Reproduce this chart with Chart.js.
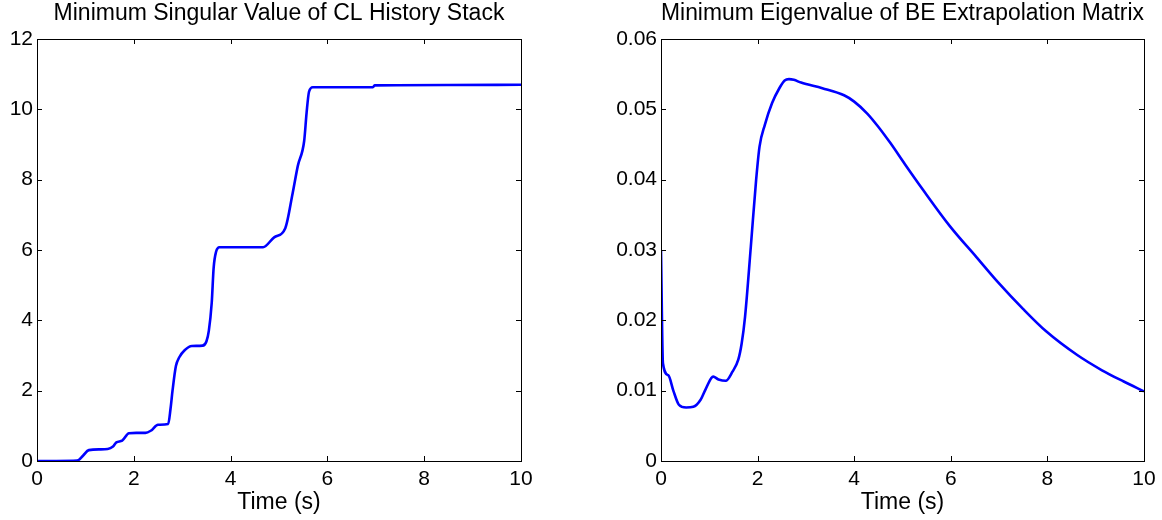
<!DOCTYPE html>
<html>
<head>
<meta charset="utf-8">
<script src="https://cdn.jsdelivr.net/npm/chart.js@4"></script>
<style>
  html, body { margin: 0; padding: 0; background: #fff; overflow: hidden; }
  #wrap { position: relative; width: 1162px; height: 520px; }
  canvas { position: absolute; top: 0; }
  #leftChart { left: 0; }
  #rightChart { left: 581px; }
</style>
</head>
<body>
<div id="wrap">
  <canvas id="leftChart" width="581" height="520"></canvas>
  <canvas id="rightChart" width="581" height="520"></canvas>
</div>
<script>
// Minimum singular value of CL history stack
const clTime = [0, 0.4, 0.83, 0.95, 1.07, 1.3, 1.46, 1.57, 1.64, 1.76, 1.9, 2.05, 2.24, 2.35, 2.5, 2.71, 2.76, 2.8, 2.87, 2.94, 3.05, 3.2, 3.42, 3.5, 3.55, 3.61, 3.65, 3.7, 3.77, 4.2, 4.67, 4.9, 5.13, 5.28, 5.39, 5.52, 5.57, 5.62, 5.7, 6.3, 6.94, 6.98, 8.5, 10];
const clValue = [0, 0, 0.01, 0.15, 0.31, 0.33, 0.34, 0.41, 0.53, 0.58, 0.79, 0.8, 0.8, 0.86, 1.03, 1.05, 1.5, 2.0, 2.7, 2.95, 3.15, 3.27, 3.28, 3.4, 3.7, 4.5, 5.5, 5.95, 6.08, 6.08, 6.08, 6.36, 6.62, 7.6, 8.4, 9.1, 9.9, 10.5, 10.63, 10.63, 10.63, 10.68, 10.69, 10.7];

// Minimum eigenvalue of BE extrapolation matrix
const beTime = [0, 0.04, 0.15, 0.26, 0.37, 0.52, 0.67, 0.82, 0.93, 1.08, 1.19, 1.34, 1.48, 1.6, 1.67, 1.74, 1.86, 1.97, 2.04, 2.15, 2.3, 2.45, 2.56, 2.65, 2.75, 2.9, 3.34, 3.79, 4.0, 4.27, 4.49, 4.75, 5.05, 5.42, 5.98, 6.53, 6.98, 7.5, 7.98, 8.61, 9.13, 9.58, 10];
const beValue = [0.030, 0.0139, 0.0122, 0.0099, 0.0080, 0.0076, 0.0077, 0.0087, 0.0103, 0.0120, 0.0116, 0.0114, 0.0127, 0.0144, 0.0167, 0.0205, 0.0305, 0.0400, 0.0447, 0.0478, 0.0509, 0.0530, 0.0541, 0.0543, 0.0542, 0.0538, 0.0530, 0.0520, 0.0511, 0.0494, 0.0476, 0.0452, 0.0422, 0.0386, 0.0334, 0.0290, 0.0254, 0.0216, 0.0184, 0.0151, 0.0129, 0.0113, 0.0099];

const xTicks = [0, 2, 4, 6, 8, 10];
const clTicks = [0, 2, 4, 6, 8, 10, 12];
const beTicks = [0, 0.01, 0.02, 0.03, 0.04, 0.05, 0.06];

const FONT = "'Liberation Sans', Arial, Helvetica, sans-serif";

// MATLAB-style box with inward ticks on all four sides
const boxPlugin = {
    id: 'matlabBox',
    afterDraw(chart) {
        const ctx = chart.ctx;
        const a = chart.chartArea;
        const len = 5;
        ctx.save();
        ctx.strokeStyle = '#000';
        ctx.lineWidth = 1;
        ctx.strokeRect(Math.round(a.left) + 0.5, Math.round(a.top) + 0.5,
            Math.round(a.right - a.left), Math.round(a.bottom - a.top));
        ctx.beginPath();
        chart.scales.x.ticks.forEach((t, i) => {
            const px = Math.round(chart.scales.x.getPixelForTick(i)) + 0.5;
            ctx.moveTo(px, a.bottom); ctx.lineTo(px, a.bottom - len);
            ctx.moveTo(px, a.top); ctx.lineTo(px, a.top + len);
        });
        chart.scales.y.ticks.forEach((t, i) => {
            const py = Math.round(chart.scales.y.getPixelForTick(i)) + 0.5;
            ctx.moveTo(a.left, py); ctx.lineTo(a.left + len, py);
            ctx.moveTo(a.right, py); ctx.lineTo(a.right - len, py);
        });
        ctx.stroke();
        ctx.restore();
    }
};

function makeChart(id, title, xs, ys, yTicks, yMax, yWidth, rightPad, fmt) {
    const ctx = document.getElementById(id).getContext('2d');
    return new Chart(ctx, {
        type: 'line',
        data: {
            datasets: [{
                data: xs.map((x, i) => ({ x: x, y: ys[i] })),
                borderColor: '#0000ff',
                borderWidth: 2.6,
                pointRadius: 0,
                fill: false,
                cubicInterpolationMode: 'monotone'
            }]
        },
        options: {
            responsive: false,
            animation: false,
            layout: { padding: { left: 0, right: rightPad, top: 0, bottom: 0 } },
            plugins: {
                legend: { display: false },
                tooltip: { enabled: false },
                title: {
                    display: true,
                    text: title,
                    fullSize: false,
                    color: '#000',
                    font: { family: FONT, size: 23, weight: 'normal' },
                    padding: { top: 0, bottom: 11.4 }
                }
            },
            scales: {
                x: {
                    type: 'linear',
                    min: 0,
                    max: 10,
                    afterBuildTicks: s => { s.ticks = xTicks.map(v => ({ value: v })); },
                    afterFit: s => { s.height = 59; },
                    grid: { display: false, drawTicks: false },
                    border: { display: false },
                    ticks: {
                        color: '#000',
                        padding: 6,
                        maxRotation: 0,
                        font: { family: FONT, size: 21 },
                        callback: v => String(v)
                    },
                    title: {
                        display: true,
                        text: 'Time (s)',
                        color: '#000',
                        font: { family: FONT, size: 23 },
                        padding: { top: 0, bottom: 4 }
                    }
                },
                y: {
                    type: 'linear',
                    min: 0,
                    max: yMax,
                    afterBuildTicks: s => { s.ticks = yTicks.map(v => ({ value: v })); },
                    afterFit: s => { s.width = yWidth; },
                    grid: { display: false, drawTicks: false },
                    border: { display: false },
                    ticks: {
                        color: '#000',
                        padding: 4,
                        font: { family: FONT, size: 21 },
                        callback: fmt
                    }
                }
            }
        },
        plugins: [boxPlugin]
    });
}

makeChart('leftChart', 'Minimum Singular Value of CL History Stack',
    clTime, clValue, clTicks, 12, 37, 60, v => String(v));
makeChart('rightChart', 'Minimum Eigenvalue of BE Extrapolation Matrix',
    beTime, beValue, beTicks, 0.06, 80, 18, v => (v === 0 ? '0' : v.toFixed(2)));
</script>
</body>
</html>
